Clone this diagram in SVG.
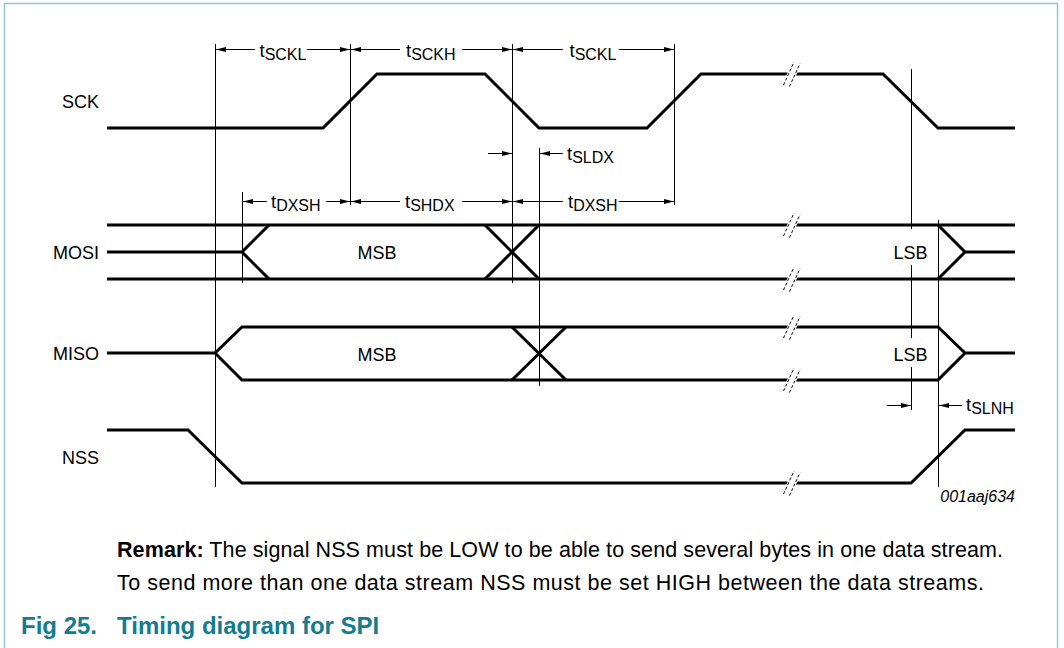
<svg xmlns="http://www.w3.org/2000/svg" width="1064" height="648" viewBox="0 0 1064 648">
<style>
.sig{fill:none;stroke:#000;stroke-width:3;stroke-linejoin:miter;stroke-linecap:butt}
.thin{fill:none;stroke:#000;stroke-width:1}
.dim{fill:none;stroke:#000;stroke-width:1}
.lbl{font-family:"Liberation Sans",Arial,sans-serif;font-size:18px;fill:#000}
.t{font-family:"Liberation Sans",Arial,sans-serif;font-size:18.5px;fill:#000}
.sub{font-size:16px}
.rem{font-family:"Liberation Sans",Arial,sans-serif;font-size:21.5px;fill:#000}
.cap{font-family:"Liberation Sans",Arial,sans-serif;font-size:24px;font-weight:bold;fill:#127c91}
.code{font-family:"Liberation Sans",Arial,sans-serif;font-size:16px;font-style:italic;fill:#000}
.dash{fill:none;stroke:#000;stroke-width:1;stroke-dasharray:3 2}
</style>
<defs>
<marker id="ah" viewBox="0 0 10 5" refX="10" refY="2.5" markerWidth="10" markerHeight="5" markerUnits="userSpaceOnUse" orient="auto">
<path d="M0,0 L10,2.5 L0,5 Z" fill="#000"/>
</marker>
<g id="brk">
<polygon points="-6.8,4 -3.1,-4 6.5,-4 2.9,4" fill="#fff"/>
<line class="dash" x1="-8.5" y1="11" x2="2" y2="-12"/>
<line class="dash" x1="-2.5" y1="12.5" x2="8" y2="-10.5"/>
</g>
</defs>
<rect x="4.5" y="3.5" width="1053" height="670" fill="#fff" stroke="#8ec8d3" stroke-width="1.5"/>

<g id="labels">
<text class="lbl" x="99" y="108" text-anchor="end">SCK</text>
<text class="lbl" x="99" y="259" text-anchor="end">MOSI</text>
<text class="lbl" x="99" y="360" text-anchor="end">MISO</text>
<text class="lbl" x="99" y="464" text-anchor="end">NSS</text>
</g>

<g id="connectors">
<line class="thin" x1="215.5" y1="44" x2="215.5" y2="487"/>
<line class="thin" x1="350.5" y1="44" x2="350.5" y2="205"/>
<line class="thin" x1="512.5" y1="44" x2="512.5" y2="283"/>
<line class="thin" x1="674.5" y1="44" x2="674.5" y2="205"/>
<line class="thin" x1="242.5" y1="192" x2="242.5" y2="283"/>
<line class="thin" x1="539.5" y1="148" x2="539.5" y2="386"/>
<line class="thin" x1="911.5" y1="69" x2="911.5" y2="229"/>
<line class="thin" x1="911.5" y1="265" x2="911.5" y2="338"/>
<line class="thin" x1="911.5" y1="367" x2="911.5" y2="410"/>
<line class="thin" x1="938.5" y1="220" x2="938.5" y2="487"/>

<line class="dim" x1="255" y1="49.5" x2="216" y2="49.5" marker-end="url(#ah)"/>
<line class="dim" x1="307" y1="49.5" x2="350" y2="49.5" marker-end="url(#ah)"/>
<line class="dim" x1="400" y1="49.5" x2="351" y2="49.5" marker-end="url(#ah)"/>
<line class="dim" x1="462" y1="49.5" x2="512" y2="49.5" marker-end="url(#ah)"/>
<line class="dim" x1="563" y1="49.5" x2="513" y2="49.5" marker-end="url(#ah)"/>
<line class="dim" x1="619" y1="49.5" x2="674" y2="49.5" marker-end="url(#ah)"/>
<line class="dim" x1="488" y1="153.5" x2="512" y2="153.5" marker-end="url(#ah)"/>
<line class="dim" x1="563" y1="153.5" x2="540" y2="153.5" marker-end="url(#ah)"/>
<line class="dim" x1="267" y1="201.5" x2="243" y2="201.5" marker-end="url(#ah)"/>
<line class="dim" x1="326" y1="201.5" x2="350" y2="201.5" marker-end="url(#ah)"/>
<line class="dim" x1="400" y1="201.5" x2="351" y2="201.5" marker-end="url(#ah)"/>
<line class="dim" x1="462" y1="201.5" x2="512" y2="201.5" marker-end="url(#ah)"/>
<line class="dim" x1="563" y1="201.5" x2="513" y2="201.5" marker-end="url(#ah)"/>
<line class="dim" x1="619" y1="201.5" x2="674" y2="201.5" marker-end="url(#ah)"/>
<line class="dim" x1="887" y1="405.5" x2="911" y2="405.5" marker-end="url(#ah)"/>
<line class="dim" x1="962" y1="405.5" x2="939" y2="405.5" marker-end="url(#ah)"/>
</g>

<g id="sck">
<path class="sig" d="M107,128 H323 L377,74 H485 L539,128 H647 L701,74 H883 L938,128 H1015"/>
<use href="#brk" x="792" y="74"/>
</g>

<g id="mosi">
<path class="sig" d="M107,225 H1015 M107,279 H1015"/>
<path class="sig" d="M107,252 H242 L269,225 M242,252 L269,279"/>
<path class="sig" d="M485,225 L539,279 M485,279 L539,225"/>
<path class="sig" d="M938,225 L965,252 L938,279 M965,252 H1015"/>
<use href="#brk" x="792" y="225"/>
<use href="#brk" x="792" y="279"/>
<text class="lbl" x="377" y="259" text-anchor="middle">MSB</text>
<text class="lbl" x="910.5" y="259" text-anchor="middle">LSB</text>
</g>

<g id="miso">
<path class="sig" d="M107,353 H215 L242,327 H938 L965,353 L938,380 H242 L215,353 M965,353 H1015"/>
<path class="sig" d="M512,327 L566,380 M512,380 L566,327"/>
<use href="#brk" x="792" y="327"/>
<use href="#brk" x="792" y="380"/>
<text class="lbl" x="377" y="361" text-anchor="middle">MSB</text>
<text class="lbl" x="910.5" y="361" text-anchor="middle">LSB</text>
</g>

<g id="nss">
<path class="sig" d="M107,430 H188 L242,483 H911 L965,430 H1015"/>
<use href="#brk" x="792" y="483"/>
</g>

<g id="timing-labels">
<text class="t" x="259.5" y="57">t<tspan class="sub" dy="2.5">SCKL</tspan></text>
<text class="t" x="406" y="57">t<tspan class="sub" dy="2.5">SCKH</tspan></text>
<text class="t" x="569.5" y="57">t<tspan class="sub" dy="2.5">SCKL</tspan></text>
<text class="t" x="567" y="160">t<tspan class="sub" dy="2.5">SLDX</tspan></text>
<text class="t" x="271" y="208">t<tspan class="sub" dy="2.5">DXSH</tspan></text>
<text class="t" x="405" y="208">t<tspan class="sub" dy="2.5">SHDX</tspan></text>
<text class="t" x="568" y="208">t<tspan class="sub" dy="2.5">DXSH</tspan></text>
<text class="t" x="966" y="411">t<tspan class="sub" dy="2.5">SLNH</tspan></text>
</g>

<text class="code" x="1015" y="502" text-anchor="end">001aaj634</text>

<g id="remark">
<text class="rem" x="117" y="557" textLength="886" lengthAdjust="spacing"><tspan font-weight="bold">Remark:</tspan> The signal NSS must be LOW to be able to send several bytes in one data stream.</text>
<text class="rem" x="117" y="590" textLength="867" lengthAdjust="spacing">To send more than one data stream NSS must be set HIGH between the data streams.</text>
</g>

<text class="cap" x="21" y="634">Fig 25.<tspan x="117">Timing diagram for SPI</tspan></text>
</svg>
